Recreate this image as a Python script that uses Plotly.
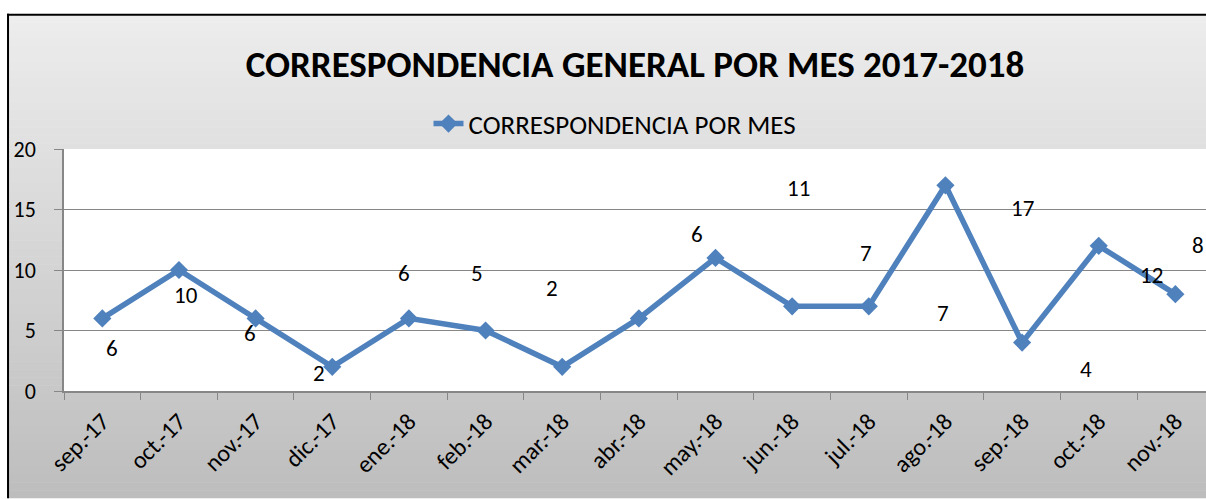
import plotly.graph_objects as go

# ---- data ----
months = ["sep.-17", "oct.-17", "nov.-17", "dic.-17", "ene.-18", "feb.-18", "mar.-18",
          "abr.-18", "may.-18", "jun.-18", "jul.-18", "ago.-18", "sep.-18", "oct.-18", "nov.-18"]
values = [6, 10, 6, 2, 6, 5, 2, 6, 11, 7, 7, 17, 4, 12, 8]
series_name = "CORRESPONDENCIA POR MES"
title_text = "CORRESPONDENCIA GENERAL POR MES 2017-2018"
y_ticks = [0, 5, 10, 15, 20]

# label placement offsets (category units, value units) relative to each point
label_dx = [0.12, 0.09, -0.07, -0.17, -0.07, -0.11, -0.13, 0.76, 1.08, 0.97, 0.97, 1.01, 0.83, 0.69, 0.30]
label_dy = [-2.43, -2.06, -1.19, -0.51, 3.76, 4.76, 6.53, 7.01, 5.78, 4.42, -0.54, -1.87, -2.16, -2.4, 4.08]

W, H = 1206, 499
ML, MR, MT, MB = 63.5, 0, 149, 107.5
PW, PH = W - ML - MR, H - MT - MB

def px2paper_x(px):
    return (px - ML) / PW

def py2paper_y(py):
    return (H - MB - py) / PH

FONT = "Calibri, Carlito, Lato, sans-serif"
BLUE = "#4F81BD"
GRID = "#878787"

fig = go.Figure()
fig.add_trace(go.Scatter(
    x=months, y=values, mode="lines+markers", name=series_name,
    line=dict(color=BLUE, width=5.5),
    marker=dict(symbol="diamond", size=14, color=BLUE),
    cliponaxis=False,
))

shapes = []
# gradient chart-area background (kept inside the figure bounds)
top_px, bot_px = 14, H
n = 60
c_top, c_bot = 237, 189
for k in range(n):
    y0 = top_px + (bot_px - top_px) * k / n
    y1 = min(bot_px, top_px + (bot_px - top_px) * (k + 1) / n + 0.5)
    c = round(c_top + (c_bot - c_top) * (k + 0.5) / n)
    shapes.append(dict(type="rect", xref="paper", yref="paper", layer="below",
                       x0=px2paper_x(7), x1=1,
                       y0=py2paper_y(y1), y1=py2paper_y(y0),
                       fillcolor=f"rgb({c},{c},{c})", line=dict(width=0)))
# white plot area
shapes.append(dict(type="rect", xref="paper", yref="paper", layer="below",
                   x0=0, x1=1, y0=0, y1=1, fillcolor="white", line=dict(width=0)))
# chart border (left and top edges; the rest lies outside the picture)
shapes.append(dict(type="line", xref="paper", yref="paper", layer="above",
                   x0=px2paper_x(7.5), x1=px2paper_x(7.5),
                   y0=py2paper_y(H), y1=py2paper_y(13.5),
                   line=dict(color="black", width=2)))
shapes.append(dict(type="line", xref="paper", yref="paper", layer="above",
                   x0=px2paper_x(6.5), x1=1,
                   y0=py2paper_y(14.5), y1=py2paper_y(14.5),
                   line=dict(color="black", width=2)))

annotations = []
for i, v in enumerate(values):
    annotations.append(dict(x=i + label_dx[i], y=v + label_dy[i], xref="x", yref="y",
                            text=str(v), showarrow=False,
                            font=dict(family=FONT, size=23, color="black")))

fig.update_layout(
    width=W, height=H, autosize=False,
    margin=dict(l=ML, r=MR, t=MT, b=MB, pad=0, autoexpand=False),
    paper_bgcolor="white", plot_bgcolor="rgba(0,0,0,0)",
    title=dict(text=f"<b>{title_text}</b>", x=635 / W, xanchor="center",
               xref="container", y=1 - 64 / H, yanchor="middle", yref="container",
               font=dict(family=FONT, size=37, color="black")),
    showlegend=True,
    legend=dict(orientation="h", x=615 / W, xref="container", xanchor="center",
                y=1 - 124 / H, yref="container", yanchor="middle", bgcolor="rgba(0,0,0,0)",
                font=dict(family=FONT, size=27, color="black")),
    xaxis=dict(type="category", range=[-0.5, (W - 101.7) / 76.69], showgrid=False,
               automargin=False,
               showline=True, linecolor=GRID, linewidth=1.5,
               ticks="outside", tickson="boundaries", ticklen=7, tickcolor=GRID,
               tickangle=-45, ticklabelstandoff=5,
               tickfont=dict(family=FONT, size=24, color="black")),
    yaxis=dict(range=[0, 20], tickvals=y_ticks, showgrid=True, gridcolor=GRID, gridwidth=1,
               automargin=False,
               showline=True, linecolor=GRID, linewidth=1.5, zeroline=False,
               ticks="outside", ticklen=8, tickcolor=GRID, ticklabelstandoff=14,
               tickfont=dict(family=FONT, size=22, color="black")),
    shapes=shapes, annotations=annotations,
)

fig.write_html(
    "out.html",
    config={"displayModeBar": False},
    post_script=("document.documentElement.style.overflow='hidden';"
                 "document.body.style.overflow='hidden';"
                 "document.body.style.margin='0';document.body.style.padding='0';"
                 "document.querySelectorAll('.svg-container').forEach(function(e){e.style.overflow='hidden';});"),
)
